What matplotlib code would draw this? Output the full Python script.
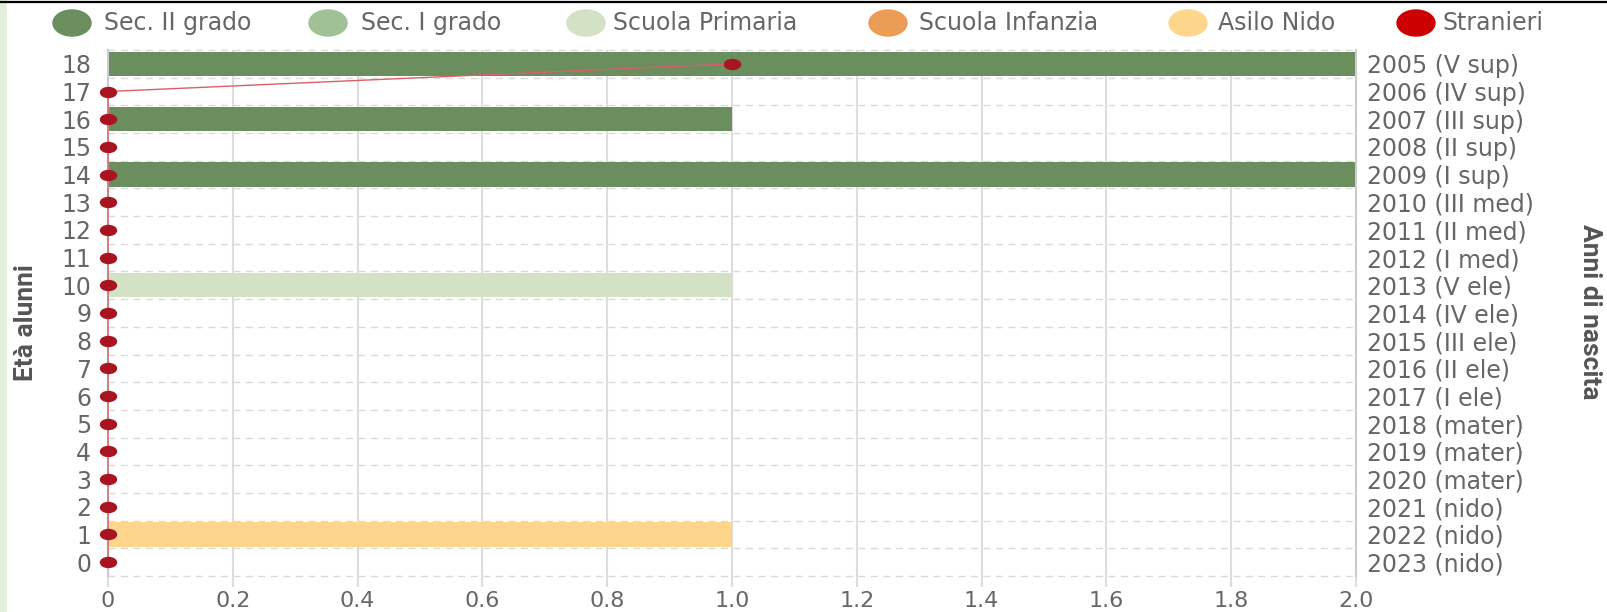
import numpy as np
import matplotlib.pyplot as plt
from matplotlib.patches import Ellipse, Rectangle
from matplotlib.path import Path
from matplotlib.transforms import Affine2D
from matplotlib.lines import Line2D

W = 1607
H = 612

# dati
eta = [0, 1, 2, 3, 4, 5, 6, 7, 8, 9, 10, 11, 12, 13, 14, 15, 16, 17, 18]
anni = ["2023 (nido)", "2022 (nido)", "2021 (nido)", "2020 (mater)", "2019 (mater)",
        "2018 (mater)", "2017 (I ele)", "2016 (II ele)", "2015 (III ele)", "2014 (IV ele)",
        "2013 (V ele)", "2012 (I med)", "2011 (II med)", "2010 (III med)", "2009 (I sup)",
        "2008 (II sup)", "2007 (III sup)", "2006 (IV sup)", "2005 (V sup)"]
sec2 = [0, 0, 0, 0, 0, 0, 0, 0, 0, 0, 0, 0, 0, 0, 2, 0, 1, 0, 2]
sec1 = [0, 0, 0, 0, 0, 0, 0, 0, 0, 0, 0, 0, 0, 0, 0, 0, 0, 0, 0]
primaria = [0, 0, 0, 0, 0, 0, 0, 0, 0, 0, 1, 0, 0, 0, 0, 0, 0, 0, 0]
infanzia = [0, 0, 0, 0, 0, 0, 0, 0, 0, 0, 0, 0, 0, 0, 0, 0, 0, 0, 0]
nido = [0, 1, 0, 0, 0, 0, 0, 0, 0, 0, 0, 0, 0, 0, 0, 0, 0, 0, 0]
stranieri = [0, 0, 0, 0, 0, 0, 0, 0, 0, 0, 0, 0, 0, 0, 0, 0, 0, 0, 1]

serie = ["Sec. II grado", "Sec. I grado", "Scuola Primaria", "Scuola Infanzia", "Asilo Nido", "Stranieri"]
colori = ["#6b8e5e", "#a0c095", "#d3e2c5", "#eb9c55", "#fed68b", "#cc0000"]

plt.rcParams['font.family'] = ['DejaVu Sans']
grigio = "#666666"
fs = 17

fig = plt.figure(figsize=(W / 100, H / 100), dpi=100)
ax = fig.add_axes([108 / W, 1 - 576 / H, (1356 - 108) / W, (576 - 50) / H])

left = np.zeros(len(eta))
for vals, col in zip([sec2, sec1, primaria, infanzia, nido], colori[:5]):
    ax.barh(eta, vals, left=left, height=0.88, color=col, zorder=2)
    left += np.array(vals)

# marker ellittico come nell'originale (stirato in orizzontale)
ell = Path.unit_circle().transformed(Affine2D().scale(1.6, 1.0))
ax.plot(stranieri, eta, color="#d86068", lw=1, zorder=3, clip_on=False)
ax.plot(stranieri, eta, ls="none", marker=ell, ms=11.5, color="#a8141f", zorder=4, clip_on=False)

ax.set_xlim(0, 2)
ax.set_ylim(-0.5, 18.5)
ax.set_xticks(np.arange(0, 2.01, 0.2))
ax.set_xticklabels(["0", "0.2", "0.4", "0.6", "0.8", "1.0", "1.2", "1.4", "1.6", "1.8", "2.0"])
ax.set_yticks(eta)
ax.set_yticklabels([str(e) for e in eta])
ax.grid(axis="x", color="#dddddd", lw=1.5, zorder=0)
ax.set_axisbelow(True)
for y in np.arange(-0.5, 18.6, 1.0):
    ax.axhline(y, color="#dadada", lw=1, ls=(0, (5, 4)), zorder=1, clip_on=False)
for s in ["top", "bottom"]:
    ax.spines[s].set_visible(False)
ax.spines["left"].set_color("#cccccc")
ax.spines["right"].set_color("#cccccc")
ax.spines["left"].set_linewidth(1.5)
ax.spines["right"].set_linewidth(1.5)
ax.tick_params(axis="x", colors="#dddddd", labelcolor=grigio, length=8, width=1.5, pad=3, labelsize=16)
ax.tick_params(axis="y", length=0, pad=12, labelcolor=grigio, labelsize=fs)

ax2 = ax.twinx()
ax2.set_ylim(-0.5, 18.5)
ax2.set_yticks(eta)
ax2.set_yticklabels(anni)
ax2.tick_params(axis="y", length=0, pad=8, labelcolor=grigio, labelsize=fs)
for s in ax2.spines.values():
    s.set_visible(False)

fam_titoli = ["Liberation Sans Narrow", "Roboto", "DejaVu Sans"]
fig.text(26 / W, 1 - 323 / H, "Età alunni", rotation=90, ha="center", va="center",
         fontsize=19, weight="bold", color="#555555", family=fam_titoli)
fig.text(1590 / W, 1 - 312 / H, "Anni di nascita", rotation=270, ha="center", va="center",
         fontsize=19, weight="bold", color="#555555", family=fam_titoli)

# legenda
cx = [72, 328, 586, 888, 1188, 1416]
tx = [104, 361, 613, 919, 1218, 1443]
for nome, col, c, t in zip(serie, colori, cx, tx):
    fig.add_artist(Ellipse((c / W, 1 - 23 / H), 38 / W, 26 / H, transform=fig.transFigure, color=col))
    fig.text(t / W, 1 - 23 / H, nome, ha="left", va="center", fontsize=fs, color=grigio)

# cornice
fig.add_artist(Rectangle((0, 0), 7 / W, 1, transform=fig.transFigure, color="#e2efda", lw=0))
fig.add_artist(Line2D([0, 1], [1 - 1.5 / H, 1 - 1.5 / H], transform=fig.transFigure, color="black", lw=1.6))

fig.savefig("out.png", dpi=100)
